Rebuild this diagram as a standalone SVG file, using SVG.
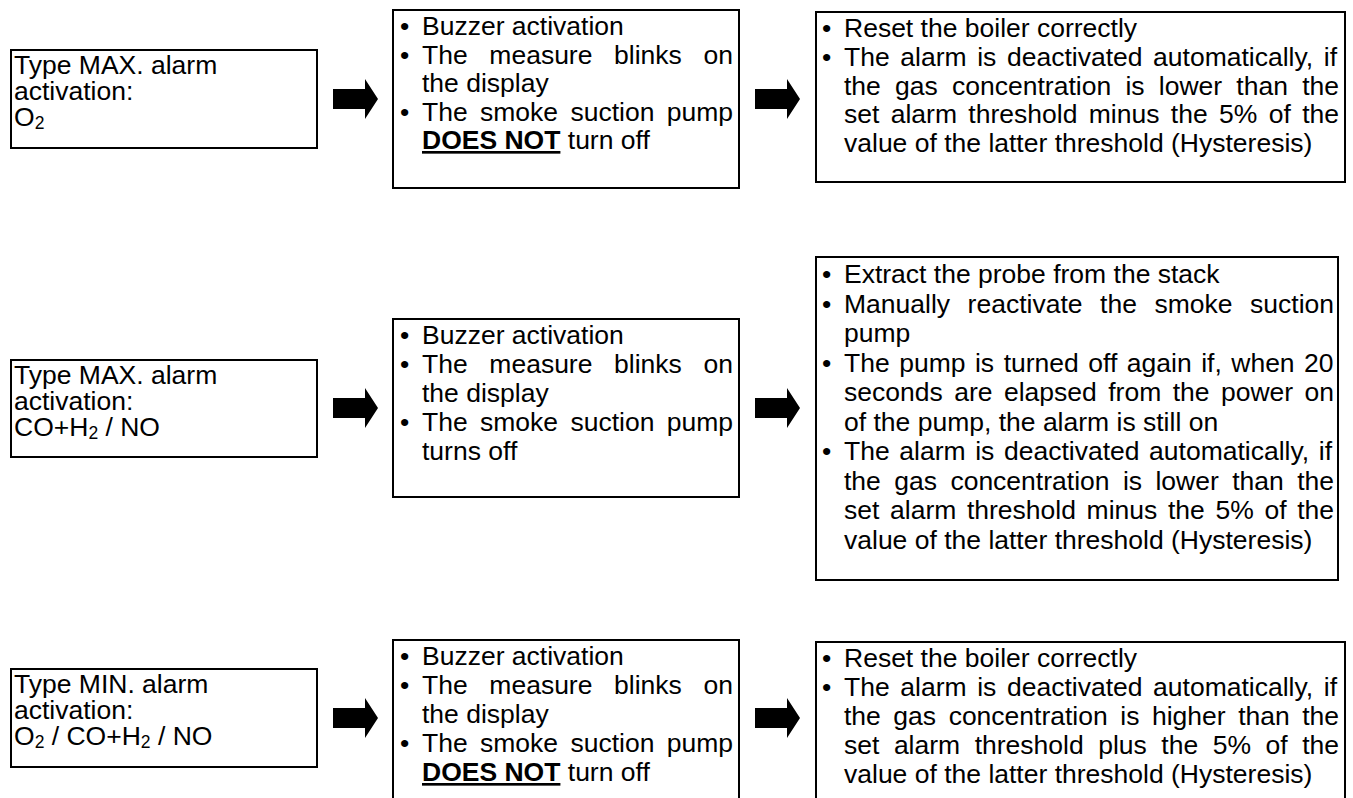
<svg xmlns="http://www.w3.org/2000/svg" width="1353" height="798" viewBox="0 0 1353 798">
<style>
.bg{fill:#fff}
.box{fill:#fff;stroke:#000;stroke-width:2}
.t{font-family:"Liberation Sans",Arial,sans-serif;font-size:26.5px;fill:#000}
.b{font-weight:bold;text-decoration:underline}
.sub{font-size:17.5px}
.arr{fill:#000}
</style>
<defs>
<polygon id="arrow" class="arr" points="0,-10 32,-10 32,-20 45,0 32,20 32,10 0,10"/>
</defs>
<rect class="bg" x="0" y="0" width="1353" height="798"/>

<g id="connectors">
<use href="#arrow" x="333" y="99"/>
<use href="#arrow" x="755" y="99"/>
<use href="#arrow" x="333" y="408"/>
<use href="#arrow" x="755" y="408"/>
<use href="#arrow" x="333" y="718"/>
<use href="#arrow" x="755" y="718"/>
</g>

<g id="r1-trigger">
<rect class="box" x="11" y="50" width="306" height="98"/>
<text class="t" x="14" y="74">Type MAX. alarm</text>
<text class="t" x="14" y="100">activation:</text>
<text class="t" x="14" y="126">O<tspan class="sub" dy="3">2</tspan></text>
</g>

<g id="r1-effects">
<rect class="box" x="393" y="10" width="346" height="178"/>
<text class="t" x="400" y="35">•</text><text class="t" x="422" y="35">Buzzer activation</text>
<text class="t" x="400" y="63.5">•</text><text class="t" x="422" y="63.5" word-spacing="14.3">The measure blinks on</text>
<text class="t" x="422" y="92">the display</text>
<text class="t" x="400" y="120.5">•</text><text class="t" x="422" y="120.5" word-spacing="5">The smoke suction pump</text>
<text class="t" x="422" y="149"><tspan class="b">DOES NOT</tspan> turn off</text>
</g>

<g id="r1-reset">
<rect class="box" x="816" y="12" width="529" height="170"/>
<text class="t" x="822" y="37">•</text><text class="t" x="844" y="37">Reset the boiler correctly</text>
<text class="t" x="822" y="66">•</text><text class="t" x="844" y="66" word-spacing="3.26">The alarm is deactivated automatically, if</text>
<text class="t" x="844" y="94.5" word-spacing="6.88">the gas concentration is lower than the</text>
<text class="t" x="844" y="123" word-spacing="4.01">set alarm threshold minus the 5% of the</text>
<text class="t" x="844" y="151.5">value of the latter threshold (Hysteresis)</text>
</g>

<g id="r2-trigger">
<rect class="box" x="11" y="360" width="306" height="97"/>
<text class="t" x="14" y="384">Type MAX. alarm</text>
<text class="t" x="14" y="410">activation:</text>
<text class="t" x="14" y="436">CO+H<tspan class="sub" dy="3">2</tspan><tspan dy="-3"> / NO</tspan></text>
</g>

<g id="r2-effects">
<rect class="box" x="393" y="319" width="346" height="178"/>
<text class="t" x="400" y="344">•</text><text class="t" x="422" y="344">Buzzer activation</text>
<text class="t" x="400" y="373">•</text><text class="t" x="422" y="373" word-spacing="14.3">The measure blinks on</text>
<text class="t" x="422" y="402">the display</text>
<text class="t" x="400" y="431">•</text><text class="t" x="422" y="431" word-spacing="5">The smoke suction pump</text>
<text class="t" x="422" y="460">turns off</text>
</g>

<g id="r2-recovery">
<rect class="box" x="816" y="257" width="522" height="323"/>
<text class="t" x="822" y="283">•</text><text class="t" x="844" y="283">Extract the probe from the stack</text>
<text class="t" x="822" y="312.5">•</text><text class="t" x="844" y="312.5" word-spacing="10.2">Manually reactivate the smoke suction</text>
<text class="t" x="844" y="342">pump</text>
<text class="t" x="822" y="371.5">•</text><text class="t" x="844" y="371.5" word-spacing="2.15">The pump is turned off again if, when 20</text>
<text class="t" x="844" y="401" word-spacing="4.1">seconds are elapsed from the power on</text>
<text class="t" x="844" y="430.5">of the pump, the alarm is still on</text>
<text class="t" x="822" y="460">•</text><text class="t" x="844" y="460" word-spacing="2.26">The alarm is deactivated automatically, if</text>
<text class="t" x="844" y="489.5" word-spacing="6.05">the gas concentration is lower than the</text>
<text class="t" x="844" y="519" word-spacing="3.3">set alarm threshold minus the 5% of the</text>
<text class="t" x="844" y="548.5">value of the latter threshold (Hysteresis)</text>
</g>

<g id="r3-trigger">
<rect class="box" x="11" y="669" width="306" height="98"/>
<text class="t" x="14" y="693">Type MIN. alarm</text>
<text class="t" x="14" y="719">activation:</text>
<text class="t" x="14" y="745">O<tspan class="sub" dy="3">2</tspan><tspan dy="-3"> / CO+H</tspan><tspan class="sub" dy="3">2</tspan><tspan dy="-3"> / NO</tspan></text>
</g>

<g id="r3-effects">
<rect class="box" x="393" y="640" width="346" height="178"/>
<text class="t" x="400" y="665">•</text><text class="t" x="422" y="665">Buzzer activation</text>
<text class="t" x="400" y="694">•</text><text class="t" x="422" y="694" word-spacing="14.3">The measure blinks on</text>
<text class="t" x="422" y="723">the display</text>
<text class="t" x="400" y="752">•</text><text class="t" x="422" y="752" word-spacing="5">The smoke suction pump</text>
<text class="t" x="422" y="781"><tspan class="b">DOES NOT</tspan> turn off</text>
</g>

<g id="r3-reset">
<rect class="box" x="816" y="642" width="529" height="170"/>
<text class="t" x="822" y="667">•</text><text class="t" x="844" y="667">Reset the boiler correctly</text>
<text class="t" x="822" y="696">•</text><text class="t" x="844" y="696" word-spacing="3.26">The alarm is deactivated automatically, if</text>
<text class="t" x="844" y="725" word-spacing="5.17">the gas concentration is higher than the</text>
<text class="t" x="844" y="754" word-spacing="7.17">set alarm threshold plus the 5% of the</text>
<text class="t" x="844" y="783">value of the latter threshold (Hysteresis)</text>
</g>
</svg>
